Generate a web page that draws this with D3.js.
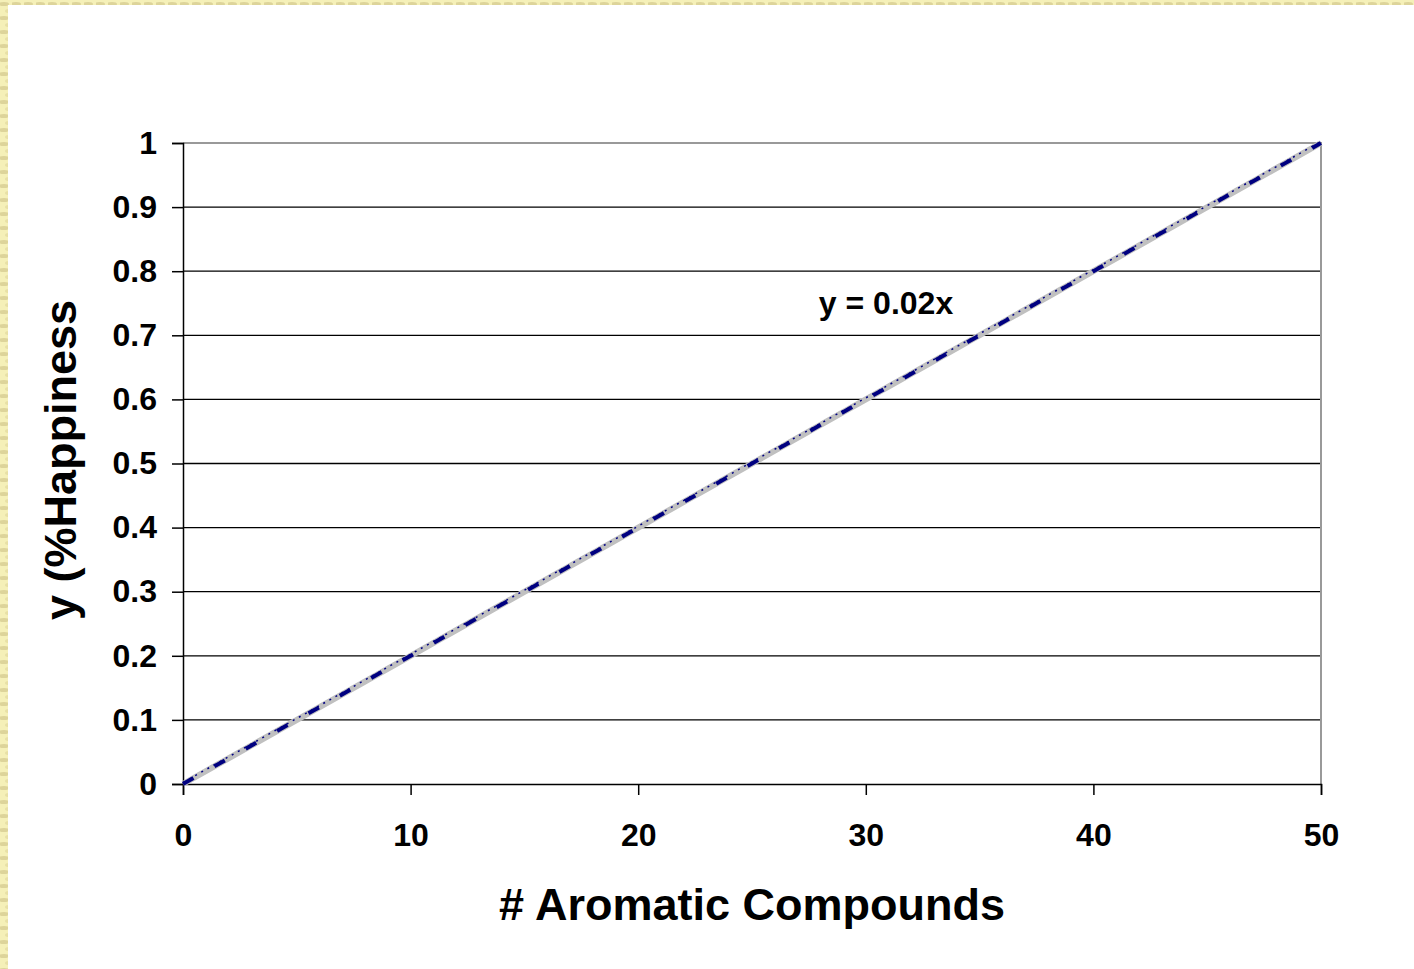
<!DOCTYPE html>
<html>
<head>
<meta charset="utf-8">
<script src="https://cdn.jsdelivr.net/npm/d3@7/dist/d3.min.js"></script>
<style>
  body { margin: 0; background: #f3eeb4; }
  svg text { font-family: "Liberation Sans", Arial, sans-serif; font-weight: bold; fill: #000; }
</style>
</head>
<body>
<script>
var xValues = [0, 10, 20, 30, 40, 50]
var yValues = [0, 0.2, 0.4, 0.6, 0.8, 1]
var xTicks = [0, 10, 20, 30, 40, 50]
var yTicks = [0, 0.1, 0.2, 0.3, 0.4, 0.5, 0.6, 0.7, 0.8, 0.9, 1]
var slope = 0.02
var trendLabel = 'y = 0.02x'

var W = 1414, H = 969
var svg = d3.select('body').append('svg')
  .attr('width', W).attr('height', H)

// textured border look
var defs = svg.append('defs')
var pat = defs.append('pattern').attr('id', 'tex')
  .attr('width', 12).attr('height', 14).attr('patternUnits', 'userSpaceOnUse')
pat.append('rect').attr('width', 12).attr('height', 14).attr('fill', '#f5f0b8')
pat.append('ellipse').attr('cx', 4).attr('cy', 4).attr('rx', 5).attr('ry', 2).attr('fill', '#ddd49a')
pat.append('ellipse').attr('cx', 9).attr('cy', 11).attr('rx', 4).attr('ry', 2).attr('fill', '#e8e0a6')
svg.append('rect').attr('width', W).attr('height', H).attr('fill', 'url(#tex)')
svg.append('rect').attr('x', 8).attr('y', 5).attr('width', W).attr('height', H).attr('fill', '#fff')

var pLeft = 183, pRight = 1321, pTop = 143, pBottom = 784
var x = d3.scaleLinear().domain([0, 50]).range([pLeft, pRight])
var y = d3.scaleLinear().domain([0, 1]).range([pBottom, pTop])

// gridlines
svg.append('g').selectAll('line').data(yTicks.slice(1, -1)).join('line')
  .attr('x1', pLeft).attr('x2', pRight)
  .attr('y1', d => y(d)).attr('y2', d => y(d))
  .attr('stroke', '#000').attr('stroke-width', 1.3)

// plot frame (top/right gray)
svg.append('path')
  .attr('d', 'M' + pLeft + ',' + pTop + 'H' + pRight + 'V' + pBottom)
  .attr('fill', 'none').attr('stroke', '#999').attr('stroke-width', 2)

var yAxis = svg.append('g').attr('transform', 'translate(' + pLeft + ',0)')
  .call(d3.axisLeft(y).tickValues(yTicks).tickSize(11).tickPadding(15)
    .tickFormat(d => d3.format('')(+d.toFixed(1))))
var xAxis = svg.append('g').attr('transform', 'translate(0,' + pBottom + ')')
  .call(d3.axisBottom(x).tickValues(xTicks).tickSize(11).tickPadding(28))
;[yAxis, xAxis].forEach(function(g) {
  g.select('.domain').attr('stroke', '#000').attr('stroke-width', 1.5)
  g.selectAll('.tick line').attr('stroke', '#000').attr('stroke-width', 1.5)
  g.selectAll('text').style('font-size', '32px')
})

// data series (gray)
var data = xValues.map((v, i) => [v, yValues[i]])
var line = d3.line().x(d => x(d[0])).y(d => y(d[1]))
svg.append('path').datum(data).attr('d', line)
  .attr('fill', 'none').attr('stroke', '#c0c0c0').attr('stroke-width', 6)

// trendline (navy dashed)
var trend = [[0, 0], [50, 50 * slope]]
svg.append('path').datum(trend).attr('d', line)
  .attr('fill', 'none').attr('stroke', '#000080').attr('stroke-width', 1.5)
  .attr('stroke-dasharray', '2,5')
  .attr('transform', 'translate(0,-1.5)')
svg.append('path').datum(trend).attr('d', line)
  .attr('fill', 'none').attr('stroke', '#000080').attr('stroke-width', 4)
  .attr('stroke-dasharray', '12,24')

svg.append('text').attr('x', 886).attr('y', 314)
  .attr('text-anchor', 'middle').style('font-size', '32px').text(trendLabel)

svg.append('text').attr('x', 752).attr('y', 920)
  .attr('text-anchor', 'middle').style('font-size', '45px').text('# Aromatic Compounds')

svg.append('text')
  .attr('transform', 'translate(76,460) rotate(-90)')
  .attr('text-anchor', 'middle').style('font-size', '45px').text('y (%Happiness')
</script>
</body>
</html>
